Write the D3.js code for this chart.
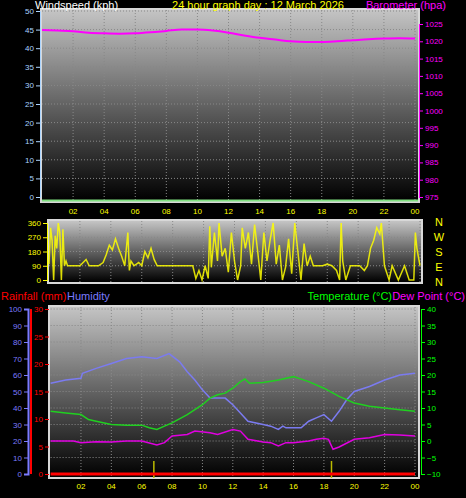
<!DOCTYPE html><html><head><meta charset="utf-8"><script src="https://cdn.jsdelivr.net/npm/d3@7"></script>
<style>body{margin:0;background:#000}svg{display:block}text{font-family:"Liberation Sans",Arial,sans-serif}</style></head><body><svg id="c" width="466" height="498"></svg><script>
const hourTicks=[2,4,6,8,10,12,14,16,18,20,22,24];
const hourLabels=["02","04","06","08","10","12","14","16","18","20","22","00"];
const baroH=[0,1,2,3,4,5,6,7,8,9,10,11,12,13,14,15,16,17,18,19,20,21,22,23,24];
const baroV=[1023.3,1023.1,1022.9,1022.5,1022.3,1022.2,1022.3,1022.6,1023,1023.4,1023.4,1023.1,1022.5,1021.7,1021,1020.5,1020,1019.8,1019.8,1020,1020.3,1020.6,1020.8,1020.9,1020.8];
const windH=[0,0.1,0.2,0.3,0.4,0.5,0.6,0.7,0.8,0.9,1.0,1.1,1.2,1.4,1.7,2.0,2.4,2.6,2.8,3.2,3.5,3.7,3.9,4.1,4.3,4.5,4.7,4.9,5.1,5.2,5.3,5.5,5.8,6.0,6.2,6.4,6.6,6.8,7.0,7.5,8.0,8.5,9.0,9.3,9.5,9.7,9.9,10.1,10.3,10.4,10.5,10.7,10.9,11.0,11.2,11.4,11.6,11.8,12.0,12.2,12.4,12.5,12.7,12.9,13.1,13.3,13.5,13.7,13.9,14.1,14.3,14.5,14.7,14.9,15.1,15.3,15.5,15.7,15.9,16.1,16.3,16.5,16.7,16.9,17.1,17.4,17.7,18.0,18.3,18.6,18.8,18.9,19.0,19.2,19.5,19.8,20.1,20.4,20.6,20.8,21.0,21.2,21.4,21.5,21.7,22.0,22.2,22.6,23.0,23.3,23.5,23.6,23.7,23.8,24];
const windV=[100,330,250,0,280,200,360,300,0,320,90,120,90,90,90,90,130,90,90,90,110,160,220,190,260,200,150,90,300,60,120,90,110,90,180,140,200,130,90,90,90,90,90,90,10,60,0,90,10,340,80,300,120,360,150,200,50,300,120,0,90,330,200,300,100,350,180,0,300,120,250,360,100,220,0,80,260,40,360,180,0,230,90,150,90,90,90,100,90,60,0,360,120,0,90,90,90,60,90,200,250,330,290,360,90,0,90,0,90,0,0,0,300,200,90,120];
const humH=[0,1,2,2.1,3,4,5,6,7,7.8,8.5,9,9.5,10,10.5,11,11.5,12,12.5,13,14,14.5,15,15.3,15.5,16,16.5,17,17.5,18,18.5,19,19.5,20,21,22,23,24];
const humV=[55,57,58,61,64,67,70,71,70,73,68,62,57,51,46,46,46,42,37,32,30,29,27,29,28,28,28,32,34,36,32,38,45,50,53,57,60,61];
const tempH=[0,1,2,2.5,3,4,5,6,6.5,7,7.5,8,9,10,10.5,11,11.5,12,12.5,12.8,13.1,14,15,16,17,18,19,20,21,22,23,24];
const tempV=[9,8.5,8,6.5,6,5,4.8,4.8,4,3.5,4.5,5.5,8,11,13,14,14.5,16,18,18.8,17.5,17.7,18.5,19.5,18,16,13.5,11.5,10.5,10,9.5,9];
const dewH=[0,1.5,2,3,4,5,6,7,7.5,8,9,9.5,10.5,11,12,12.5,13,14,14.5,15,15.5,16,17,17.5,18,18.3,18.6,19,20,21,22,23,24];
const dewV=[0,0,-0.5,-0.2,-0.3,0,0,-1.2,-0.5,1.5,2,3,2.5,2,3.5,3,0.5,-0.3,-0.5,-1.5,-0.5,-0.5,0,0.5,0.8,0.5,-2.5,-1.8,0.5,1,2,1.8,1.5];
const rainH=[0,24];const rainV=[0,0];
const markH=[6.8,18.5];

const svg=d3.select("#c");
const defs=svg.append("defs");
const g=defs.append("linearGradient").attr("id","bg").attr("x1",0).attr("y1",0).attr("x2",0).attr("y2",1);
g.append("stop").attr("offset","0%").attr("stop-color","#c4c4c4");
g.append("stop").attr("offset","100%").attr("stop-color","#000");
function panel(x0,x1,y0,y1){
  svg.append("rect").attr("x",x0-2).attr("y",y0-2).attr("width",x1-x0+4).attr("height",y1-y0+4).attr("fill","#d8d8d8");
  svg.append("rect").attr("x",x0).attr("y",y0).attr("width",x1-x0).attr("height",y1-y0).attr("fill","url(#bg)");
}
function grid(x,vals,yscale,y0,y1){
  hourTicks.forEach(h=>svg.append("line").attr("x1",x(h)).attr("x2",x(h)).attr("y1",y0).attr("y2",y1).attr("stroke","#888").attr("stroke-dasharray","1,2"));
  vals.forEach(v=>svg.append("line").attr("x1",x.range()[0]).attr("x2",x.range()[1]).attr("y1",yscale(v)).attr("y2",yscale(v)).attr("stroke","#888").attr("stroke-dasharray","1,2"));
}
function style(gg,color){gg.select(".domain").attr("stroke",color);gg.selectAll("line").attr("stroke",color);gg.selectAll("text").attr("fill",color).attr("font-size",8);return gg;}
function axisL(scale,x,vals,color){
  return style(svg.append("g").attr("transform",`translate(${x},0)`).call(d3.axisLeft(scale).tickValues(vals).tickSize(4).tickPadding(2).tickFormat(d3.format("d"))),color);
}
function axisR(scale,x,vals,color){
  return style(svg.append("g").attr("transform",`translate(${x},0)`).call(d3.axisRight(scale).tickValues(vals).tickSize(4).tickPadding(2).tickFormat(d3.format("d"))),color);
}
function xlabels(x,y){
  hourTicks.forEach((h,i)=>svg.append("text").attr("x",x(h)).attr("y",y).attr("text-anchor","middle").attr("fill","#ff0").attr("font-size",8).text(hourLabels[i]));
}
// Panel 1
const x1=d3.scaleLinear([0,24],[42,415]);
const ws=d3.scaleLinear([0,50],[197,11]);
const bs=d3.scaleLinear([975,1025],[197,24]);
panel(42,418,10,201);
grid(x1,d3.range(5,51,5),ws,10,201);
axisL(ws,40,d3.range(0,51,5),"#aad4ff");
axisR(bs,419,d3.range(975,1026,5),"#f0f");
svg.append("path").datum(baroH.map((h,i)=>[h,baroV[i]])).attr("d",d3.line().x(d=>x1(d[0])).y(d=>bs(d[1])).curve(d3.curveMonotoneX)).attr("fill","none").attr("stroke","#f0f").attr("stroke-width",2);
svg.append("line").attr("x1",42).attr("x2",418).attr("y1",200.5).attr("y2",200.5).attr("stroke","#80e080").attr("stroke-width",2);
svg.append("text").attr("x",35).attr("y",9).attr("fill","#fff").attr("font-size",11).text("Windspeed (kph)");
svg.append("text").attr("x",258).attr("y",9).attr("text-anchor","middle").attr("fill","#ff0").attr("font-size",11).text("24 hour graph day : 12 March 2026");
svg.append("text").attr("x",446).attr("y",9).attr("text-anchor","end").attr("fill","#f0f").attr("font-size",11).text("Barometer (hpa)");
xlabels(x1,214);
// Panel 2
const x2=d3.scaleLinear([0,24],[49,420]);
const ds=d3.scaleLinear([0,360],[280,223]);
panel(49,421,221,282);
grid(x2,[90,180,270],ds,221,282);
axisL(ds,47,[0,90,180,270,360],"#ff0");
svg.append("path").datum(windH.map((h,i)=>[h,windV[i]])).attr("d",d3.line().x(d=>x2(d[0])).y(d=>ds(d[1]))).attr("fill","none").attr("stroke","#ff0").attr("stroke-width",1.5).attr("opacity",0.85);
["N","W","S","E","N"].forEach((t,i)=>svg.append("text").attr("x",439).attr("y",226+i*15).attr("text-anchor","middle").attr("fill","#ff0").attr("font-size",11).text(t));
// Panel 3
const x3=d3.scaleLinear([0,24],[50.6,415]);
const hs=d3.scaleLinear([0,100],[474,309]);
const rs=d3.scaleLinear([0,30],[474,309]);
const ts=d3.scaleLinear([-10,40],[474,309]);
panel(50,418,307,477);
grid(x3,d3.range(10,101,10),hs,307,477);
axisL(hs,28,d3.range(0,101,10),"#7b7bff").select(".domain").attr("stroke-width",2);
const ra=axisL(rs,49,d3.range(0,31,5),"#f00");
ra.select(".domain").remove();
svg.append("line").attr("x1",31).attr("x2",31).attr("y1",309).attr("y2",474).attr("stroke","#f00").attr("stroke-width",2);
axisR(ts,421,d3.range(-10,41,5),"#0f0");
const ln=(H,V,s)=>d3.line().x((d,i)=>x3(H[i])).y((d,i)=>s(V[i]))(V);
svg.append("path").attr("d",ln(humH,humV,hs)).attr("fill","none").attr("stroke","#7b7bf0").attr("stroke-width",1.5);
svg.append("path").attr("d",ln(tempH,tempV,ts)).attr("fill","none").attr("stroke","#20d020").attr("stroke-width",1.5);
svg.append("path").attr("d",ln(dewH,dewV,ts)).attr("fill","none").attr("stroke","#e000e0").attr("stroke-width",1.5);
markH.forEach(h=>svg.append("line").attr("x1",x3(h)).attr("x2",x3(h)).attr("y1",461).attr("y2",478).attr("stroke","#bb0").attr("stroke-width",1.5));
svg.append("path").attr("d",ln(rainH,rainV,rs)).attr("stroke","#f00").attr("stroke-width",3);
svg.append("text").attr("x",1).attr("y",300).attr("fill","#f00").attr("font-size",11).text("Rainfall (mm)");
svg.append("text").attr("x",67).attr("y",300).attr("fill","#7b7bff").attr("font-size",11).text("Humidity");
svg.append("text").attr("x",392).attr("y",300).attr("text-anchor","end").attr("fill","#0f0").attr("font-size",11).text("Temperature (°C)");
svg.append("text").attr("x",465).attr("y",300).attr("text-anchor","end").attr("fill","#f0f").attr("font-size",11).text("Dew Point (°C)");
xlabels(x3,489);
</script></body></html>
